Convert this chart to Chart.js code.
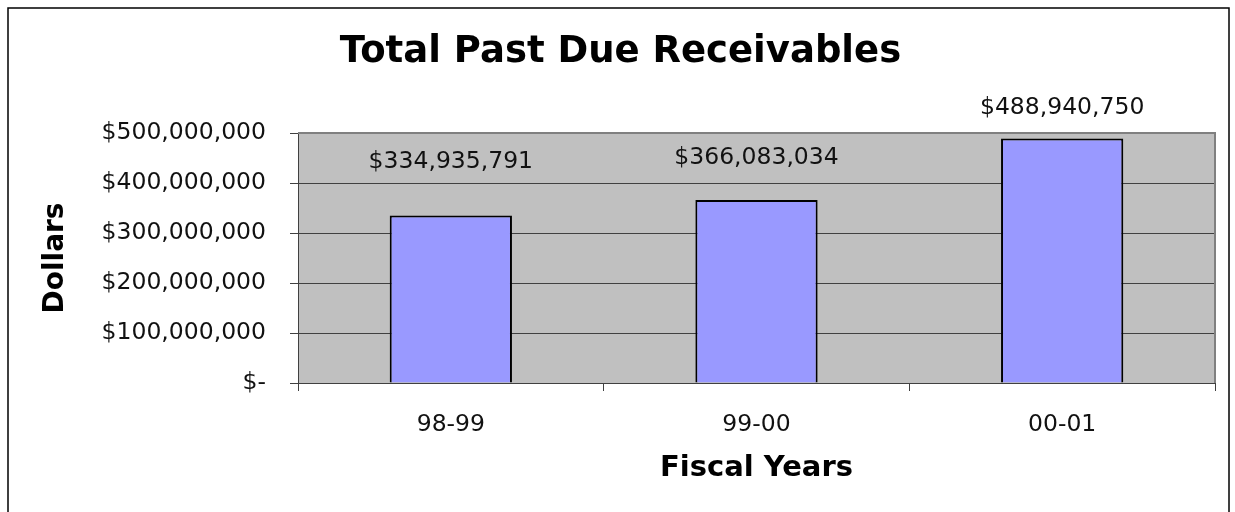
<!DOCTYPE html>
<html>
<head>
<meta charset="utf-8">
<title>Total Past Due Receivables</title>
<script src="https://cdn.jsdelivr.net/npm/chart.js@4/dist/chart.umd.min.js"></script>
<style>
    html, body { margin: 0; padding: 0; background: #fff; }
    #wrap { width: 1235px; height: 512px; position: relative; }
</style>
</head>
<body>
<div id="wrap"><canvas id="chart"></canvas></div>
<script>
// ---- data ----
const fiscalYears = ["98-99", "99-00", "00-01"];
const pastDue = [334935791, 366083034, 488940750];
const yTicks = [0, 100000000, 200000000, 300000000, 400000000, 500000000];

const FONT = "'DejaVu Sans', Verdana, sans-serif";

function money(v) {
    if (v === 0) return "$-";
    return "$" + v.toLocaleString("en-US");
}

// gray plot area, gray top/right frame, black outer border
const frame = {
    id: "frame",
    beforeDraw(chart) {
        const { ctx, chartArea: a } = chart;
        ctx.save();
        ctx.fillStyle = "#c0c0c0";
        ctx.fillRect(a.left, a.top, a.right - a.left, a.bottom - a.top);
        ctx.strokeStyle = "#000";
        ctx.lineWidth = 1.5;
        ctx.strokeRect(8, 8, 1221, 520);
        ctx.restore();
    },
    afterDatasetsDraw(chart) {
        const { ctx, chartArea: a } = chart;
        ctx.save();
        ctx.strokeStyle = "#808080";
        ctx.lineWidth = 2;
        ctx.beginPath();
        ctx.moveTo(a.left, a.top);
        ctx.lineTo(a.right, a.top);
        ctx.lineTo(a.right, a.bottom);
        ctx.stroke();
        ctx.restore();
    }
};

// value labels above each bar (Excel placed them at slightly different heights)
const labelLift = [54, 42, 31];
const valueLabels = {
    id: "valueLabels",
    afterDatasetsDraw(chart) {
        const { ctx } = chart;
        const meta = chart.getDatasetMeta(0);
        ctx.save();
        ctx.font = "23.5px " + FONT;
        ctx.fillStyle = "#111";
        ctx.textAlign = "center";
        ctx.textBaseline = "middle";
        meta.data.forEach((bar, i) => {
            ctx.fillText(money(pastDue[i]), bar.x, bar.y - labelLift[i]);
        });
        ctx.restore();
    }
};

new Chart(document.getElementById("chart"), {
    type: "bar",
    data: {
        labels: fiscalYears,
        datasets: [{
            data: pastDue,
            backgroundColor: "#9999ff",
            borderColor: "#000",
            borderWidth: 2,
            barPercentage: 0.4,
            categoryPercentage: 1
        }]
    },
    options: {
        responsive: true,
        maintainAspectRatio: false,
        animation: false,
        layout: { padding: { left: 26, right: 20, top: 0, bottom: 0 } },
        plugins: {
            legend: { display: false },
            tooltip: { enabled: false },
            title: {
                display: true,
                text: "Total Past Due Receivables",
                font: { family: FONT, size: 37, weight: "bold" },
                color: "#000",
                padding: { top: 30, bottom: 58.6 }
            }
        },
        scales: {
            x: {
                grid: { drawOnChartArea: false, tickLength: 8, color: "#404040", offset: true },
                border: { color: "#404040", width: 1 },
                ticks: { font: { family: FONT, size: 23.5 }, color: "#111", padding: 20 },
                title: {
                    display: true,
                    text: "Fiscal Years",
                    font: { family: FONT, size: 29, weight: "bold" },
                    color: "#000",
                    padding: { top: 10, bottom: 26 }
                },
                afterFit(scale) { scale.height = 129; }
            },
            y: {
                min: 0,
                max: 500000000,
                afterBuildTicks(scale) { scale.ticks = yTicks.map(v => ({ value: v })); },
                grid: { color: "#404040", tickLength: 8 },
                border: { color: "#404040", width: 1 },
                ticks: {
                    font: { family: FONT, size: 23.5 },
                    color: "#111",
                    padding: 24,
                    callback: v => money(v)
                },
                title: {
                    display: true,
                    text: "Dollars",
                    font: { family: FONT, size: 28, weight: "bold" },
                    color: "#000",
                    padding: { top: 13, bottom: 0 }
                },
                afterFit(scale) { scale.width = 272; }
            }
        }
    },
    plugins: [frame, valueLabels]
});
</script>
</body>
</html>
